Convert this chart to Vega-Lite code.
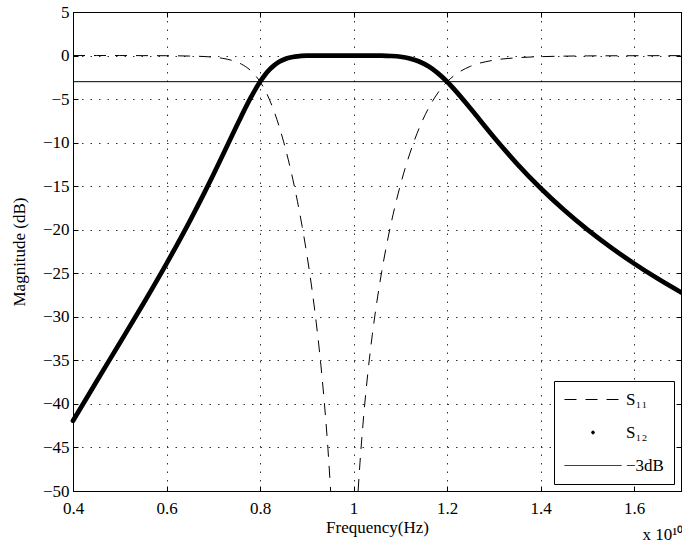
{
  "$schema": "https://vega.github.io/schema/vega-lite/v6.json",
  "width": 608,
  "height": 479,
  "autosize": {"type": "none"},
  "padding": {"left": 73, "top": 12, "right": 1, "bottom": 59},
  "background": "white",
  "config": {
    "font": "Liberation Serif",
    "view": {"stroke": "black", "strokeWidth": 1},
    "axis": {
      "labelFont": "Liberation Serif",
      "labelFontSize": 17,
      "labelColor": "black",
      "titleFont": "Liberation Serif",
      "titleFontSize": 17,
      "titleFontWeight": "normal",
      "titleColor": "black",
      "domainColor": "black",
      "domainWidth": 1,
      "tickColor": "black",
      "tickSize": -5,
      "tickWidth": 1,
      "gridColor": "#333333",
      "gridDash": [1.5, 7],
      "gridWidth": 1,
      "labelFlush": false,
      "labelOverlap": false
    }
  },
  "title": {
    "text": "x 10¹⁰",
    "orient": "bottom",
    "anchor": "end",
    "font": "Liberation Serif",
    "fontSize": 17,
    "fontWeight": "normal",
    "color": "black",
    "offset": -8
  },
  "datasets": {
    "s11": [
      {"f": 0.40, "db": 0, "series": "S₁₁", "branch": "low"},
      {"f": 0.45, "db": 0, "series": "S₁₁", "branch": "low"},
      {"f": 0.50, "db": 0, "series": "S₁₁", "branch": "low"},
      {"f": 0.55, "db": -0.01, "series": "S₁₁", "branch": "low"},
      {"f": 0.60, "db": -0.02, "series": "S₁₁", "branch": "low"},
      {"f": 0.65, "db": -0.06, "series": "S₁₁", "branch": "low"},
      {"f": 0.68, "db": -0.11, "series": "S₁₁", "branch": "low"},
      {"f": 0.70, "db": -0.19, "series": "S₁₁", "branch": "low"},
      {"f": 0.72, "db": -0.32, "series": "S₁₁", "branch": "low"},
      {"f": 0.75, "db": -0.74, "series": "S₁₁", "branch": "low"},
      {"f": 0.76, "db": -0.98, "series": "S₁₁", "branch": "low"},
      {"f": 0.78, "db": -1.73, "series": "S₁₁", "branch": "low"},
      {"f": 0.79, "db": -2.29, "series": "S₁₁", "branch": "low"},
      {"f": 0.80, "db": -3.01, "series": "S₁₁", "branch": "low"},
      {"f": 0.81, "db": -3.92, "series": "S₁₁", "branch": "low"},
      {"f": 0.82, "db": -5.05, "series": "S₁₁", "branch": "low"},
      {"f": 0.83, "db": -6.41, "series": "S₁₁", "branch": "low"},
      {"f": 0.84, "db": -8.00, "series": "S₁₁", "branch": "low"},
      {"f": 0.85, "db": -9.83, "series": "S₁₁", "branch": "low"},
      {"f": 0.86, "db": -11.89, "series": "S₁₁", "branch": "low"},
      {"f": 0.87, "db": -14.20, "series": "S₁₁", "branch": "low"},
      {"f": 0.88, "db": -16.77, "series": "S₁₁", "branch": "low"},
      {"f": 0.89, "db": -19.63, "series": "S₁₁", "branch": "low"},
      {"f": 0.90, "db": -22.84, "series": "S₁₁", "branch": "low"},
      {"f": 0.91, "db": -26.46, "series": "S₁₁", "branch": "low"},
      {"f": 0.92, "db": -30.63, "series": "S₁₁", "branch": "low"},
      {"f": 0.93, "db": -35.54, "series": "S₁₁", "branch": "low"},
      {"f": 0.94, "db": -41.52, "series": "S₁₁", "branch": "low"},
      {"f": 0.945, "db": -45.08, "series": "S₁₁", "branch": "low"},
      {"f": 0.9509, "db": -50, "series": "S₁₁", "branch": "low"},
      {"f": 1.0096, "db": -50, "series": "S₁₁", "branch": "high"},
      {"f": 1.015, "db": -45.72, "series": "S₁₁", "branch": "high"},
      {"f": 1.02, "db": -42.33, "series": "S₁₁", "branch": "high"},
      {"f": 1.03, "db": -36.66, "series": "S₁₁", "branch": "high"},
      {"f": 1.04, "db": -32.05, "series": "S₁₁", "branch": "high"},
      {"f": 1.05, "db": -28.17, "series": "S₁₁", "branch": "high"},
      {"f": 1.06, "db": -24.83, "series": "S₁₁", "branch": "high"},
      {"f": 1.07, "db": -21.90, "series": "S₁₁", "branch": "high"},
      {"f": 1.08, "db": -19.30, "series": "S₁₁", "branch": "high"},
      {"f": 1.09, "db": -16.97, "series": "S₁₁", "branch": "high"},
      {"f": 1.10, "db": -14.87, "series": "S₁₁", "branch": "high"},
      {"f": 1.11, "db": -12.98, "series": "S₁₁", "branch": "high"},
      {"f": 1.12, "db": -11.28, "series": "S₁₁", "branch": "high"},
      {"f": 1.13, "db": -9.74, "series": "S₁₁", "branch": "high"},
      {"f": 1.14, "db": -8.36, "series": "S₁₁", "branch": "high"},
      {"f": 1.16, "db": -6.06, "series": "S₁₁", "branch": "high"},
      {"f": 1.18, "db": -4.30, "series": "S₁₁", "branch": "high"},
      {"f": 1.20, "db": -3.01, "series": "S₁₁", "branch": "high"},
      {"f": 1.22, "db": -2.10, "series": "S₁₁", "branch": "high"},
      {"f": 1.25, "db": -1.23, "series": "S₁₁", "branch": "high"},
      {"f": 1.30, "db": -0.53, "series": "S₁₁", "branch": "high"},
      {"f": 1.35, "db": -0.25, "series": "S₁₁", "branch": "high"},
      {"f": 1.40, "db": -0.13, "series": "S₁₁", "branch": "high"},
      {"f": 1.45, "db": -0.07, "series": "S₁₁", "branch": "high"},
      {"f": 1.50, "db": -0.04, "series": "S₁₁", "branch": "high"},
      {"f": 1.60, "db": -0.02, "series": "S₁₁", "branch": "high"},
      {"f": 1.70, "db": -0.01, "series": "S₁₁", "branch": "high"}
    ],
    "s12": [
      {"f": 0.40, "db": -41.94},
      {"f": 0.45, "db": -37.45},
      {"f": 0.50, "db": -33.01},
      {"f": 0.55, "db": -28.53},
      {"f": 0.60, "db": -23.89},
      {"f": 0.65, "db": -18.98},
      {"f": 0.68, "db": -15.86},
      {"f": 0.70, "db": -13.69},
      {"f": 0.72, "db": -11.46},
      {"f": 0.75, "db": -8.07},
      {"f": 0.76, "db": -6.96},
      {"f": 0.78, "db": -4.84},
      {"f": 0.79, "db": -3.88},
      {"f": 0.80, "db": -3.01},
      {"f": 0.81, "db": -2.26},
      {"f": 0.82, "db": -1.63},
      {"f": 0.83, "db": -1.13},
      {"f": 0.84, "db": -0.75},
      {"f": 0.85, "db": -0.48},
      {"f": 0.86, "db": -0.29},
      {"f": 0.87, "db": -0.17},
      {"f": 0.88, "db": -0.09},
      {"f": 0.90, "db": -0.02},
      {"f": 0.92, "db": 0},
      {"f": 0.95, "db": 0},
      {"f": 1.00, "db": 0},
      {"f": 1.04, "db": 0},
      {"f": 1.06, "db": -0.01},
      {"f": 1.08, "db": -0.05},
      {"f": 1.10, "db": -0.14},
      {"f": 1.12, "db": -0.34},
      {"f": 1.14, "db": -0.68},
      {"f": 1.16, "db": -1.24},
      {"f": 1.18, "db": -2.02},
      {"f": 1.20, "db": -3.01},
      {"f": 1.22, "db": -4.17},
      {"f": 1.25, "db": -6.09},
      {"f": 1.30, "db": -9.37},
      {"f": 1.35, "db": -12.46},
      {"f": 1.40, "db": -15.24},
      {"f": 1.45, "db": -17.74},
      {"f": 1.50, "db": -19.99},
      {"f": 1.55, "db": -22.03},
      {"f": 1.60, "db": -23.89},
      {"f": 1.65, "db": -25.61},
      {"f": 1.70, "db": -27.19}
    ],
    "ref": [
      {"db": -3}
    ]
  },
  "layer": [
    {
      "layer": [
        {
          "data": {"name": "s11"},
          "mark": {"type": "line", "color": "black", "strokeWidth": 1, "interpolate": "monotone"},
          "encoding": {
            "x": {
              "field": "f", "type": "quantitative",
              "scale": {"domain": [0.4, 1.7], "nice": false, "zero": false},
              "axis": {"title": "Frequency(Hz)", "values": [0.4, 0.6, 0.8, 1, 1.2, 1.4, 1.6], "format": "~g", "labelPadding": 14, "titlePadding": 3}
            },
            "y": {
              "field": "db", "type": "quantitative",
              "scale": {"domain": [-50, 5], "nice": false, "zero": false},
              "axis": {"title": "Magnitude (dB)", "values": [-50, -45, -40, -35, -30, -25, -20, -15, -10, -5, 0, 5], "format": "d", "labelPadding": 9, "titlePadding": 14}
            },
            "detail": {"field": "branch"},
            "strokeDash": {
              "field": "series", "type": "nominal",
              "scale": {"domain": ["S₁₁", "S₁₂", "−3dB"], "range": [[12, 9], [1, 0], [1, 0]]},
              "legend": {
                "title": null,
                "orient": "bottom-right",
                "offset": 7,
                "padding": 10,
                "rowPadding": 15,
                "fillColor": "white",
                "strokeColor": "black",
                "labelFont": "Liberation Serif",
                "labelFontSize": 17,
                "labelColor": "black",
                "labelOffset": 4,
                "symbolSize": 3249,
                "symbolStrokeWidth": 1,
                "symbolStrokeColor": "black",
                "symbolFillColor": "black",
                "clipHeight": 17,
                "encode": {
                  "symbols": {
                    "update": {
                      "shape": {"signal": "datum.value === 'S₁₂' ? 'M-0.05,0A0.05,0.05,0,1,0,0.05,0A0.05,0.05,0,1,0,-0.05,0Z' : 'stroke'"},
                      "fill": {"value": "black"},
                      "stroke": {"value": "black"}
                    }
                  }
                }
              }
            }
          }
        },
        {
          "data": {"name": "s12"},
          "mark": {"type": "line", "color": "black", "strokeWidth": 4.7, "strokeCap": "round", "strokeJoin": "round", "interpolate": "monotone"},
          "encoding": {
            "x": {"field": "f", "type": "quantitative", "title": "Frequency(Hz)"},
            "y": {"field": "db", "type": "quantitative", "title": "Magnitude (dB)"}
          }
        },
        {
          "data": {"name": "ref"},
          "mark": {"type": "rule", "color": "black", "strokeWidth": 1},
          "encoding": {
            "y": {"field": "db", "type": "quantitative", "title": "Magnitude (dB)"}
          }
        }
      ]
    },
    {
      "data": {"name": "s12"},
      "mark": {"type": "line", "opacity": 0},
      "encoding": {
        "x": {"field": "f", "type": "quantitative", "axis": {"orient": "top", "labels": false, "title": null, "grid": false, "values": [0.4, 0.6, 0.8, 1, 1.2, 1.4, 1.6]}},
        "y": {"field": "db", "type": "quantitative", "axis": {"orient": "right", "labels": false, "title": null, "grid": false, "values": [-50, -45, -40, -35, -30, -25, -20, -15, -10, -5, 0, 5]}}
      }
    }
  ],
  "resolve": {"axis": {"x": "independent", "y": "independent"}}
}
